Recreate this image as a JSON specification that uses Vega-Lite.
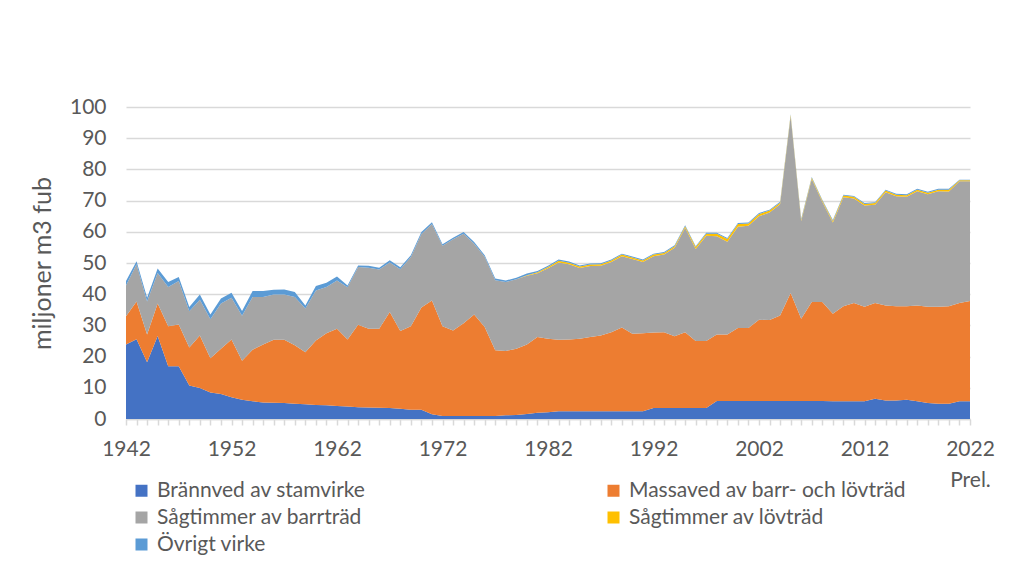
{
  "$schema": "https://vega.github.io/schema/vega-lite/v6.json",
  "autosize": "none",
  "width": 844,
  "height": 312,
  "padding": {"left": 126, "top": 107, "right": 45, "bottom": 145},
  "background": "white",
  "config": {
    "view": {"stroke": null},
    "font": "Lato",
    "axis": {"labelFont": "Lato", "titleFont": "Lato", "labelColor": "#595959", "titleColor": "#595959"}
  },
  "data": {"values": [
    {"yr":1942,"s1":23.9,"s2":9.0,"s3":9.9,"s4":0,"s5":1.4},
    {"yr":1943,"s1":25.6,"s2":12.1,"s3":11.9,"s4":0,"s5":1.0},
    {"yr":1944,"s1":18.2,"s2":8.9,"s3":10.6,"s4":0,"s5":1.2},
    {"yr":1945,"s1":26.6,"s2":10.4,"s3":9.8,"s4":0,"s5":1.4},
    {"yr":1946,"s1":16.9,"s2":12.8,"s3":12.6,"s4":0,"s5":1.6},
    {"yr":1947,"s1":16.9,"s2":13.4,"s3":13.9,"s4":0,"s5":1.3},
    {"yr":1948,"s1":10.7,"s2":12.2,"s3":11.6,"s4":0,"s5":1.4},
    {"yr":1949,"s1":9.9,"s2":16.9,"s3":11.4,"s4":0,"s5":1.7},
    {"yr":1950,"s1":8.5,"s2":11.0,"s3":12.5,"s4":0,"s5":1.5},
    {"yr":1951,"s1":8.0,"s2":14.5,"s3":14.5,"s4":0,"s5":1.6},
    {"yr":1952,"s1":7.0,"s2":18.5,"s3":13.4,"s4":0,"s5":1.6},
    {"yr":1953,"s1":6.2,"s2":12.5,"s3":14.4,"s4":0,"s5":1.5},
    {"yr":1954,"s1":5.7,"s2":16.5,"s3":16.9,"s4":0,"s5":1.9},
    {"yr":1955,"s1":5.3,"s2":18.6,"s3":15.2,"s4":0,"s5":1.9},
    {"yr":1956,"s1":5.2,"s2":20.2,"s3":14.5,"s4":0,"s5":1.5},
    {"yr":1957,"s1":5.1,"s2":20.3,"s3":14.5,"s4":0,"s5":1.6},
    {"yr":1958,"s1":4.9,"s2":18.7,"s3":15.5,"s4":0,"s5":1.6},
    {"yr":1959,"s1":4.7,"s2":16.7,"s3":14.0,"s4":0,"s5":1.0},
    {"yr":1960,"s1":4.5,"s2":20.7,"s3":16.0,"s4":0,"s5":1.4},
    {"yr":1961,"s1":4.4,"s2":23.1,"s3":14.8,"s4":0,"s5":1.4},
    {"yr":1962,"s1":4.2,"s2":24.7,"s3":15.5,"s4":0,"s5":1.3},
    {"yr":1963,"s1":4.0,"s2":21.5,"s3":16.7,"s4":0,"s5":0.6},
    {"yr":1964,"s1":3.8,"s2":26.4,"s3":18.5,"s4":0,"s5":0.5},
    {"yr":1965,"s1":3.7,"s2":25.2,"s3":19.6,"s4":0,"s5":0.6},
    {"yr":1966,"s1":3.6,"s2":25.3,"s3":19.0,"s4":0,"s5":0.6},
    {"yr":1967,"s1":3.5,"s2":30.8,"s3":15.9,"s4":0,"s5":0.7},
    {"yr":1968,"s1":3.3,"s2":24.9,"s3":19.8,"s4":0,"s5":0.6},
    {"yr":1969,"s1":3.0,"s2":26.7,"s3":22.2,"s4":0,"s5":0.6},
    {"yr":1970,"s1":3.0,"s2":32.7,"s3":23.6,"s4":0,"s5":0.6},
    {"yr":1971,"s1":1.5,"s2":36.5,"s3":24.5,"s4":0,"s5":0.6},
    {"yr":1972,"s1":1.0,"s2":28.7,"s3":25.8,"s4":0,"s5":0.5},
    {"yr":1973,"s1":1.0,"s2":27.4,"s3":29.2,"s4":0,"s5":0.5},
    {"yr":1974,"s1":1.0,"s2":29.7,"s3":28.7,"s4":0,"s5":0.5},
    {"yr":1975,"s1":1.0,"s2":32.5,"s3":22.7,"s4":0,"s5":0.5},
    {"yr":1976,"s1":1.0,"s2":28.5,"s3":22.5,"s4":0,"s5":0.5},
    {"yr":1977,"s1":1.0,"s2":21.0,"s3":22.5,"s4":0,"s5":0.5},
    {"yr":1978,"s1":1.2,"s2":20.6,"s3":22.1,"s4":0,"s5":0.5},
    {"yr":1979,"s1":1.3,"s2":21.2,"s3":22.3,"s4":0,"s5":0.5},
    {"yr":1980,"s1":1.6,"s2":22.3,"s3":22.0,"s4":0.2,"s5":0.5},
    {"yr":1981,"s1":2.0,"s2":24.3,"s3":20.4,"s4":0.3,"s5":0.4},
    {"yr":1982,"s1":2.2,"s2":23.5,"s3":22.6,"s4":0.4,"s5":0.4},
    {"yr":1983,"s1":2.5,"s2":22.9,"s3":24.8,"s4":0.5,"s5":0.4},
    {"yr":1984,"s1":2.5,"s2":23.0,"s3":24.1,"s4":0.5,"s5":0.4},
    {"yr":1985,"s1":2.5,"s2":23.2,"s3":22.7,"s4":0.5,"s5":0.3},
    {"yr":1986,"s1":2.5,"s2":23.8,"s3":22.7,"s4":0.5,"s5":0.3},
    {"yr":1987,"s1":2.5,"s2":24.3,"s3":22.3,"s4":0.5,"s5":0.3},
    {"yr":1988,"s1":2.5,"s2":25.3,"s3":22.5,"s4":0.5,"s5":0.3},
    {"yr":1989,"s1":2.5,"s2":26.8,"s3":22.9,"s4":0.5,"s5":0.3},
    {"yr":1990,"s1":2.5,"s2":24.8,"s3":24.0,"s4":0.5,"s5":0.3},
    {"yr":1991,"s1":2.5,"s2":25.0,"s3":22.8,"s4":0.5,"s5":0.3},
    {"yr":1992,"s1":3.5,"s2":24.2,"s3":24.5,"s4":0.5,"s5":0.3},
    {"yr":1993,"s1":3.5,"s2":24.3,"s3":24.9,"s4":0.5,"s5":0.3},
    {"yr":1994,"s1":3.5,"s2":23.0,"s3":28.4,"s4":0.5,"s5":0.3},
    {"yr":1995,"s1":3.5,"s2":24.3,"s3":33.5,"s4":0.5,"s5":0.3},
    {"yr":1996,"s1":3.5,"s2":21.5,"s3":29.5,"s4":0.6,"s5":0.3},
    {"yr":1997,"s1":3.5,"s2":21.5,"s3":33.7,"s4":0.7,"s5":0.3},
    {"yr":1998,"s1":5.8,"s2":21.3,"s3":31.5,"s4":0.8,"s5":0.3},
    {"yr":1999,"s1":5.8,"s2":21.3,"s3":29.7,"s4":0.9,"s5":0.3},
    {"yr":2000,"s1":5.8,"s2":23.4,"s3":32.4,"s4":0.9,"s5":0.3},
    {"yr":2001,"s1":5.8,"s2":23.4,"s3":32.7,"s4":0.8,"s5":0.3},
    {"yr":2002,"s1":5.8,"s2":26.0,"s3":33.2,"s4":0.7,"s5":0.3},
    {"yr":2003,"s1":5.8,"s2":25.9,"s3":34.5,"s4":0.6,"s5":0.3},
    {"yr":2004,"s1":5.8,"s2":27.4,"s3":35.6,"s4":0.5,"s5":0.3},
    {"yr":2005,"s1":5.8,"s2":34.6,"s3":56.6,"s4":0.4,"s5":0.3},
    {"yr":2006,"s1":5.8,"s2":26.3,"s3":31.4,"s4":0.4,"s5":0.3},
    {"yr":2007,"s1":5.8,"s2":31.7,"s3":39.4,"s4":0.4,"s5":0.3},
    {"yr":2008,"s1":5.8,"s2":31.7,"s3":32.1,"s4":0.4,"s5":0.3},
    {"yr":2009,"s1":5.7,"s2":28.0,"s3":29.3,"s4":0.5,"s5":0.3},
    {"yr":2010,"s1":5.7,"s2":30.4,"s3":35.0,"s4":0.5,"s5":0.3},
    {"yr":2011,"s1":5.7,"s2":31.5,"s3":33.5,"s4":0.5,"s5":0.3},
    {"yr":2012,"s1":5.7,"s2":30.3,"s3":32.4,"s4":0.5,"s5":0.3},
    {"yr":2013,"s1":6.5,"s2":30.7,"s3":31.5,"s4":0.5,"s5":0.3},
    {"yr":2014,"s1":5.9,"s2":30.5,"s3":36.3,"s4":0.5,"s5":0.3},
    {"yr":2015,"s1":5.9,"s2":30.2,"s3":35.3,"s4":0.5,"s5":0.3},
    {"yr":2016,"s1":6.2,"s2":29.9,"s3":35.1,"s4":0.5,"s5":0.3},
    {"yr":2017,"s1":5.7,"s2":30.7,"s3":36.6,"s4":0.5,"s5":0.3},
    {"yr":2018,"s1":5.1,"s2":30.9,"s3":36.0,"s4":0.5,"s5":0.3},
    {"yr":2019,"s1":4.9,"s2":31.1,"s3":37.0,"s4":0.5,"s5":0.3},
    {"yr":2020,"s1":4.9,"s2":31.2,"s3":36.8,"s4":0.6,"s5":0.3},
    {"yr":2021,"s1":5.7,"s2":31.5,"s3":39.0,"s4":0.3,"s5":0.2},
    {"yr":2022,"s1":5.7,"s2":32.1,"s3":38.4,"s4":0.3,"s5":0.2}
  ]},
  "transform": [{"fold": ["s1","s2","s3","s4","s5"], "as": ["serie","value"]}],
  "mark": {"type": "area", "interpolate": "linear"},
  "encoding": {
    "x": {
      "field": "yr", "type": "quantitative",
      "scale": {"domain": [1942, 2022], "nice": false, "zero": false},
      "axis": {
        "title": null, "grid": false, "format": "d",
        "values": [1942,1943,1944,1945,1946,1947,1948,1949,1950,1951,1952,1953,1954,1955,1956,1957,1958,1959,1960,1961,1962,1963,1964,1965,1966,1967,1968,1969,1970,1971,1972,1973,1974,1975,1976,1977,1978,1979,1980,1981,1982,1983,1984,1985,1986,1987,1988,1989,1990,1991,1992,1993,1994,1995,1996,1997,1998,1999,2000,2001,2002,2003,2004,2005,2006,2007,2008,2009,2010,2011,2012,2013,2014,2015,2016,2017,2018,2019,2020,2021,2022],
        "labelExpr": "datum.value % 10 == 2 ? (datum.value == 2022 ? ['2022', 'Prel.'] : datum.label) : ''",
        "labelFontSize": 21, "labelPadding": 13, "labelLineHeight": 31,
        "labelOverlap": false, "labelFlush": false,
        "domainColor": "#D9D9D9", "domainWidth": 1.5,
        "tickColor": "#D9D9D9", "tickWidth": 1.5, "tickSize": 6
      }
    },
    "y": {
      "field": "value", "type": "quantitative", "stack": "zero",
      "scale": {"domain": [0, 100], "nice": false},
      "axis": {
        "title": "miljoner m3 fub", "titleFontSize": 25, "titleFontWeight": "normal", "titlePadding": 14,
        "values": [0,10,20,30,40,50,60,70,80,90,100],
        "labelFontSize": 21, "labelPadding": 20,
        "domain": false, "ticks": false,
        "grid": true, "gridColor": "#D9D9D9", "gridWidth": 1.5
      }
    },
    "color": {
      "field": "serie", "type": "nominal",
      "scale": {"domain": ["s1","s2","s3","s4","s5"], "range": ["#4472C4","#ED7D31","#A5A5A5","#FFC000","#5B9BD5"]},
      "legend": {
        "title": null, "orient": "none", "legendX": 5, "legendY": 373,
        "direction": "horizontal", "columns": 2, "columnPadding": 237, "rowPadding": 5,
        "symbolType": "square", "symbolSize": 144, "symbolStrokeWidth": 0, "symbolOffset": 0,
        "labelFont": "Lato", "labelFontSize": 21, "labelColor": "#595959", "labelOffset": 5,
        "labelLimit": 400,
        "labelExpr": "{'s1': 'Brännved av stamvirke', 's2': 'Massaved av barr- och lövträd', 's3': 'Sågtimmer av barrträd', 's4': 'Sågtimmer av lövträd', 's5': 'Övrigt virke'}[datum.label]"
      }
    },
    "order": {"field": "serie", "sort": "ascending"}
  }
}
